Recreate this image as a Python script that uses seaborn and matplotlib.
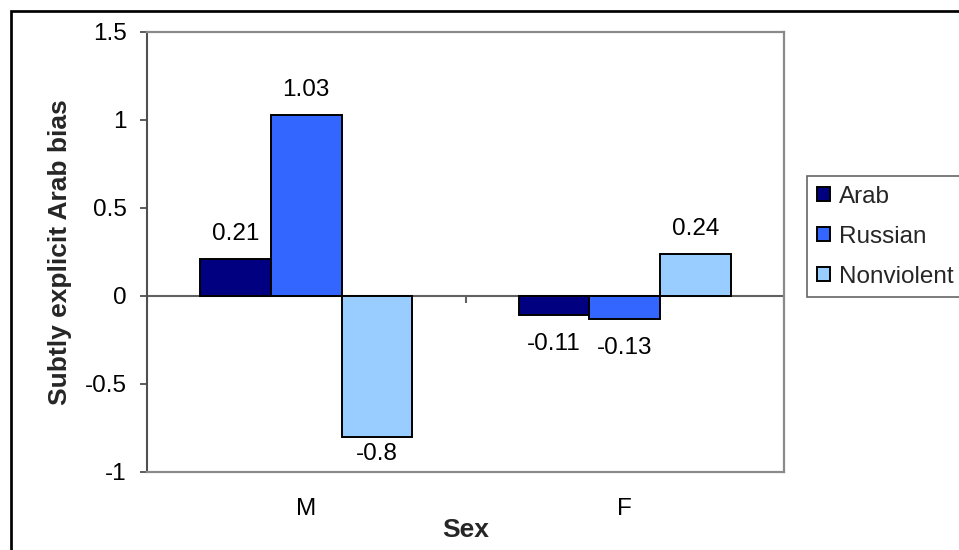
import matplotlib
matplotlib.use("Agg")
import matplotlib.pyplot as plt
from matplotlib.patches import Rectangle
import seaborn as sns
import pandas as pd

# Data
sexes = ["M", "F"]
groups = ["Arab", "Russian", "Nonviolent"]
arab = [0.21, -0.11]
russian = [1.03, -0.13]
nonviolent = [-0.8, 0.24]
colors = ["#000080", "#3366FF", "#99CCFF"]
ytick_vals = [1.5, 1, 0.5, 0, -0.5, -1]
ytick_labels = ["1.5", "1", "0.5", "0", "-0.5", "-1"]

rows = []
for g, vals in zip(groups, [arab, russian, nonviolent]):
    for s, v in zip(sexes, vals):
        rows.append({"Sex": s, "Group": g, "bias": v})
df = pd.DataFrame(rows)

sns.set_theme(style="white")
plt.rcParams["font.family"] = ["Liberation Sans", "DejaVu Sans"]
plt.rcParams["axes.unicode_minus"] = False

FS = 17.5
TITLE_FS = 19

W, H = 959, 550
fig = plt.figure(figsize=(W / 100, H / 100), dpi=100)
fig.patch.set_facecolor("white")
ax = fig.add_axes([147 / W, 1 - 472 / H, (784 - 147) / W, (472 - 32) / H])

# zero line with category boundary ticks
ax.axhline(0, color="#606060", lw=1.5, zorder=1)

sns.barplot(data=df, x="Sex", y="bias", hue="Group", hue_order=groups,
            order=sexes, palette=colors, width=3 / 4.5, gap=0,
            edgecolor="black", linewidth=1.4, saturation=1, errorbar=None,
            ax=ax, zorder=2)

ymin, ymax = -1, 1.5
ax.set_ylim(ymin, ymax)
ax.set_xlim(-0.5, len(sexes) - 0.5)
tick_len = 7 / 440 * (ymax - ymin)
ax.vlines([i - 0.5 for i in range(len(sexes) + 1)], -tick_len, 0,
          color="#606060", lw=1.5, zorder=1)

ax.set_yticks(ytick_vals)
ax.set_yticklabels(ytick_labels)
ax.tick_params(axis="y", length=5, width=1.2, color="#404040", pad=9.4,
               labelsize=FS, labelcolor="black", left=True)
ax.set_xticks(range(len(sexes)))
ax.set_xticklabels(sexes)
ax.tick_params(axis="x", length=0, pad=19, labelsize=FS, labelcolor="black")

for side in ["top", "right", "bottom"]:
    ax.spines[side].set_color("#8a8a8a")
    ax.spines[side].set_linewidth(1.6)
ax.spines["left"].set_color("#505050")
ax.spines["left"].set_linewidth(1.5)

ax.set_xlabel("Sex", fontsize=TITLE_FS, fontweight="bold", va="top")
ax.xaxis.set_label_coords(0.5, -0.105)
ax.set_ylabel("Subtly explicit Arab bias", fontsize=TITLE_FS,
              fontweight="bold")
ax.yaxis.set_label_coords(-0.118, 0.5)

# value labels
pt_to_data = (ymax - ymin) / (440 * 0.72)
above_gap = 13.7 * pt_to_data
below_gap = 13.0 * pt_to_data
text_h = 12.5 * pt_to_data
bottom_margin = 8.6 * pt_to_data
for cont, vals in zip(ax.containers, [arab, russian, nonviolent]):
    for bar, v in zip(cont, vals):
        xc = bar.get_x() + bar.get_width() / 2
        label = f"{v:g}"
        if v >= 0:
            ax.text(xc, v + above_gap, label, ha="center", va="baseline",
                    fontsize=FS, color="black")
        else:
            y_top = v - below_gap
            if y_top - text_h < ymin + bottom_margin:
                y_top = ymin + bottom_margin + text_h
            ax.text(xc, y_top, label, ha="center", va="top",
                    fontsize=FS, color="black")

handles, labels = ax.get_legend_handles_labels()
if ax.get_legend() is not None:
    ax.get_legend().remove()
leg = fig.legend(handles, labels, loc="upper left",
                 bbox_to_anchor=(807 / W, 1 - 176 / H),
                 bbox_transform=fig.transFigure, fontsize=FS,
                 frameon=True, fancybox=False, shadow=False,
                 handlelength=0.55, handleheight=0.55, handletextpad=0.35,
                 labelspacing=0.74, borderpad=0.4, borderaxespad=0)
leg.get_frame().set_edgecolor("#404040")
leg.get_frame().set_linewidth(1.2)
for h in leg.legend_handles:
    h.set_edgecolor("black")
    h.set_linewidth(1.4)

# outer chart border
fig.add_artist(Rectangle((11.3 / W, -0.1), 1.2, 1 - 11.3 / H + 0.1,
                         transform=fig.transFigure, fill=False,
                         edgecolor="black", lw=1.95, clip_on=False))

fig.savefig("out.png", dpi=100)
